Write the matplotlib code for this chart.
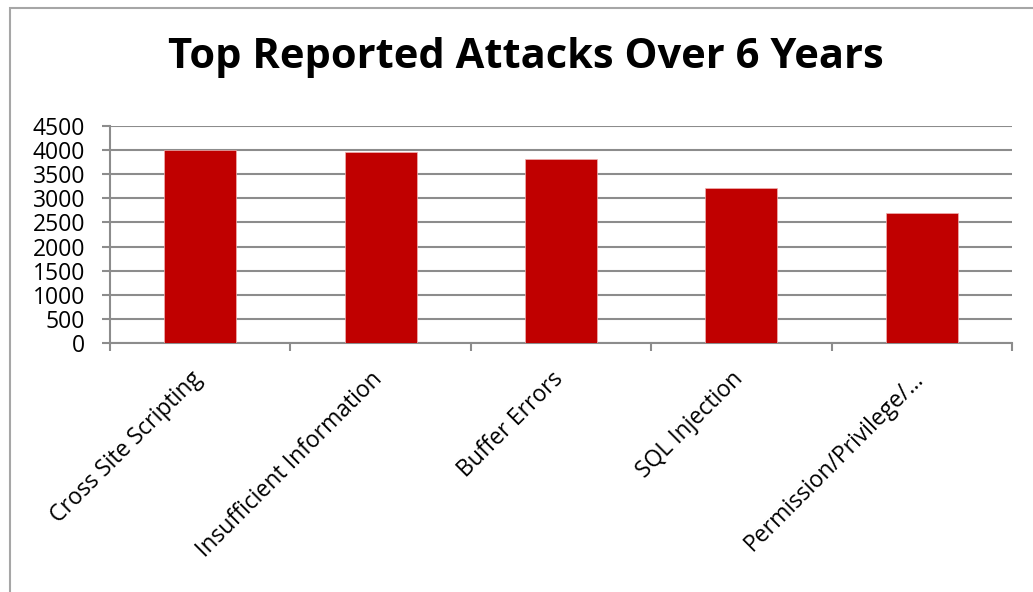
import matplotlib

matplotlib.use("Agg")
import matplotlib.pyplot as plt
from matplotlib.patches import Rectangle

# Chart data
categories = ["Cross Site Scripting", "Insufficient Information", "Buffer Errors",
              "SQL Injection", "Permission/Privilege/\u2026"]
attacks = [3990, 3960, 3805, 3210, 2690]
y_ticks = [0, 500, 1000, 1500, 2000, 2500, 3000, 3500, 4000, 4500]

W, H = 1033, 592
plt.rcParams["font.family"] = ["Open Sans", "DejaVu Sans"]

fig = plt.figure(figsize=(W / 100, H / 100), dpi=100)
ax = fig.add_axes([110 / W, 1 - 343.3 / H, (1012 - 110) / W, (343.3 - 125.7) / H])

# outer chart border (left and top visible)
fig.add_artist(Rectangle((9.5 / W, -0.1), 1.2, 1 - 8 / H + 0.1, transform=fig.transFigure,
                         fill=False, edgecolor="#a6a6a6", linewidth=1.5))

x = list(range(len(categories)))
ax.bar(x, attacks, width=0.4, color="#C00000", edgecolor="#f0b0b0", linewidth=0.5, zorder=3)

ax.set_xlim(-0.5, len(categories) - 0.5)
ax.set_ylim(0, 4500)
ax.set_yticks(y_ticks)
ax.set_yticklabels([str(v) for v in y_ticks], fontsize=16.5)
ax.yaxis.grid(True, color="#8c8c8c", linewidth=1.5, zorder=0)
ax.tick_params(axis="y", length=6, width=1.5, color="#8c8c8c", pad=12)

# category boundary ticks on the x axis
ax.set_xticks([i - 0.5 for i in range(len(categories) + 1)])
ax.set_xticklabels([])
ax.tick_params(axis="x", length=6, width=1.5, color="#8c8c8c")
for i, name in enumerate(categories):
    ax.annotate(name, xy=(i, 0), xycoords=("data", "axes fraction"),
                xytext=(-1, -23), textcoords="offset points",
                rotation=45, ha="right", va="center", rotation_mode="anchor",
                fontsize=16.5)

for side in ["top", "right"]:
    ax.spines[side].set_visible(False)
for side in ["left", "bottom"]:
    ax.spines[side].set_color("#8c8c8c")
    ax.spines[side].set_linewidth(1.5)

fig.text(526 / W, 1 - 58 / H, "Top Reported Attacks Over 6 Years",
         ha="center", va="center", fontsize=30, fontweight="bold")

fig.savefig("out.png", dpi=100)
